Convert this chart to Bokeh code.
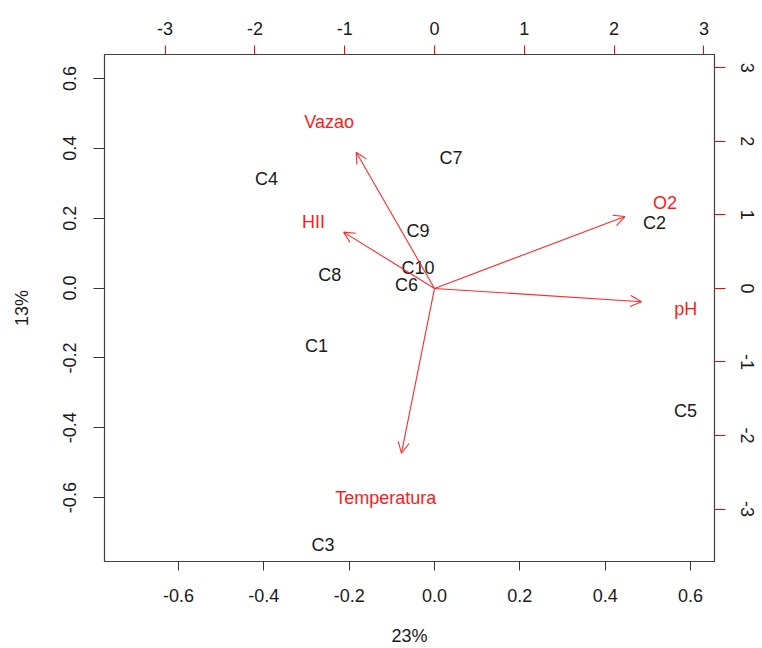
from bokeh.plotting import figure
from bokeh.models import (Range1d, LinearAxis, FixedTicker, PrintfTickFormatter,
                          ColumnDataSource, Arrow, OpenHead)
from bokeh.core.properties import value
from bokeh.embed import file_html
from bokeh.resources import INLINE

# ---- data (scores: primary axes; loadings: secondary axes) ----
obs_labels = ["C1", "C2", "C3", "C4", "C5", "C6", "C7", "C8", "C9", "C10"]
obs_x = [-0.259, 0.533, -0.244, -0.376, 0.606, -0.048, 0.056, -0.228, -0.021, -0.021]
obs_y = [-0.154, 0.198, -0.725, 0.323, -0.342, 0.020, 0.385, 0.049, 0.176, 0.068]

var_labels = ["Vazao", "HII", "O2", "pH", "Temperatura"]
var_x = [-1.090, -1.265, 2.650, 2.881, -0.460]
var_y = [2.313, 0.957, 1.221, -0.226, -2.800]

x_ticks = [-0.6, -0.4, -0.2, 0.0, 0.2, 0.4, 0.6]
y_ticks = [-0.6, -0.4, -0.2, 0.0, 0.2, 0.4, 0.6]
x2_ticks = [-3, -2, -1, 0, 1, 2, 3]
y2_ticks = [-3, -2, -1, 0, 1, 2, 3]
x_title = "23%"
y_title = "13%"

FONT = "Liberation Sans"
FS = "18px"
DX, DY = -7.5, 4  # text rendering offset seen in the reference

p = figure(width=762, height=648, output_backend="svg", toolbar_location=None,
           x_range=Range1d(-0.7734, 0.6562), y_range=Range1d(-0.7829, 0.6686),
           min_border_left=104, min_border_right=48, min_border_top=54,
           min_border_bottom=86, background_fill_color="white",
           border_fill_color="white")
p.extra_x_ranges = {"x2": Range1d(-3.675, 3.118)}
p.extra_y_ranges = {"y2": Range1d(-3.712, 3.180)}

p.xgrid.visible = False
p.ygrid.visible = False
p.outline_line_color = "#404040"
p.outline_line_width = 1.2

def style_axis(ax, ticks, fmt, tick_color, tick_out, standoff):
    ax.ticker = FixedTicker(ticks=ticks)
    ax.formatter = PrintfTickFormatter(format=fmt)
    ax.axis_line_color = None
    ax.major_tick_line_color = tick_color
    ax.major_tick_out = tick_out
    ax.major_tick_in = 0
    ax.minor_tick_line_color = None
    ax.major_label_text_font = FONT
    ax.major_label_text_font_size = FS
    ax.major_label_text_color = "#1a1a1a"
    ax.major_label_standoff = standoff
    ax.axis_label_text_font = FONT
    ax.axis_label_text_font_size = FS
    ax.axis_label_text_font_style = "normal"
    ax.axis_label_text_color = "#1a1a1a"

xa = p.xaxis[0]
style_axis(xa, x_ticks, "%.1f", "#333333", 9, 18)
xa.axis_label = x_title
xa.axis_label_standoff = 21

ya = p.yaxis[0]
style_axis(ya, y_ticks, "%.1f", "#333333", 11, 17)
ya.major_label_orientation = "vertical"
ya.axis_label = y_title
ya.axis_label_standoff = 29

top = LinearAxis(x_range_name="x2")
style_axis(top, x2_ticks, "%d", "red", 9, 11)
p.add_layout(top, "above")

right = LinearAxis(y_range_name="y2")
style_axis(right, y2_ticks, "%d", "red", 11, 15)
right.major_label_orientation = "vertical"
p.add_layout(right, "right")

# observation labels
obs_src = ColumnDataSource(dict(x=obs_x, y=obs_y, t=obs_labels))
p.text(x="x", y="y", text="t", source=obs_src, text_align="center",
       text_baseline="middle", text_font=value(FONT), text_font_size=FS,
       text_color="#1a1a1a", x_offset=DX, y_offset=DY)

# variable arrows (to 0.8 of loading) and labels at loading
tip_x = [0.8 * v for v in var_x]
tip_y = [0.8 * v for v in var_y]
arr_src = ColumnDataSource(dict(x0=[0.0] * len(var_x), y0=[0.0] * len(var_y),
                                x1=tip_x, y1=tip_y))
p.add_layout(Arrow(end=OpenHead(size=11, line_color="#ff2a2a", line_width=1.1),
                   x_start="x0", y_start="y0", x_end="x1", y_end="y1",
                   source=arr_src, line_color="#ff2a2a", line_width=1.1,
                   x_range_name="x2", y_range_name="y2"))

var_src = ColumnDataSource(dict(x=var_x, y=var_y, t=var_labels))
p.text(x="x", y="y", text="t", source=var_src, text_align="center",
       text_baseline="middle", text_font=value(FONT), text_font_size=FS,
       text_color="#ff1a1a", x_offset=DX, y_offset=DY,
       x_range_name="x2", y_range_name="y2")

open("out.html", "w").write(file_html(p, INLINE))
